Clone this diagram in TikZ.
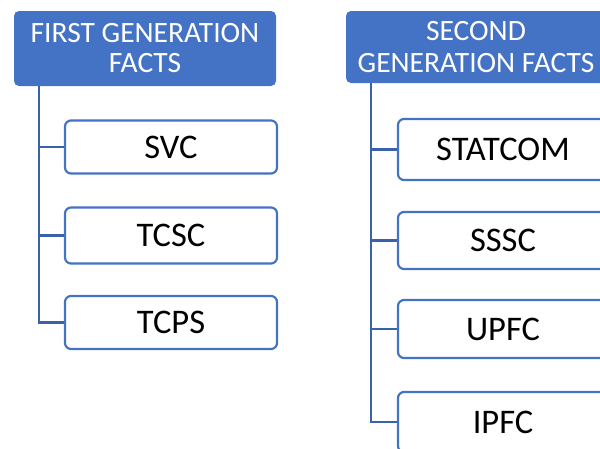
\documentclass[tikz,border=0pt]{standalone}
\usepackage{fontspec}
\setmainfont{Carlito}
\definecolor{hdr}{HTML}{4472C4}
\definecolor{conn}{HTML}{3A62AC}
\begin{document}
\begin{tikzpicture}[x=1pt,y=-1pt,
  header/.style={draw=none, fill=hdr, rounded corners=5pt, text=white, align=center,
     inner sep=0pt},
  item/.style={draw=hdr, line width=2.2pt, fill=white, rounded corners=6pt,
     font=\fontsize{34.5}{38}\selectfont, inner sep=0pt, text=black},
  link/.style={draw=conn, line width=2.4pt}]
\useasboundingbox (0,0) rectangle (600,448);
\clip (0,0) rectangle (600,448);
% left column
\node[header, font=\fontsize{29.5}{30}\selectfont, minimum width=262pt, minimum height=75pt] (h1) at (145,48.5) {FIRST GENERATION\\FACTS};
\node[item, minimum width=212pt, minimum height=53pt] (svc) at (171,147) {SVC};
\node[item, minimum width=212pt, minimum height=56pt] (tcsc) at (171,235.5) {TCSC};
\node[item, minimum width=212pt, minimum height=53pt] (tcps) at (171,322.5) {TCPS};
% right column
\node[header, font=\fontsize{29.5}{32}\selectfont, minimum width=260pt, minimum height=72pt] (h2) at (476,47) {SECOND\\GENERATION FACTS};
\node[item, minimum width=210pt, minimum height=61pt] (st) at (503,149.5) {STATCOM};
\node[item, minimum width=210pt, minimum height=57pt] (sssc) at (503,240.5) {SSSC};
\node[item, minimum width=210pt, minimum height=58pt] (upfc) at (503,329) {UPFC};
\node[item, minimum width=210pt, minimum height=60pt] (ipfc) at (503,422) {IPFC};
% connectors
\draw[link] ([xshift=25pt]h1.south west) |- (svc.west);
\draw[link] ([xshift=25pt]h1.south west) |- (tcsc.west);
\draw[link] ([xshift=25pt]h1.south west) |- (tcps.west);
\draw[link] ([xshift=25pt]h2.south west) |- (st.west);
\draw[link] ([xshift=25pt]h2.south west) |- (sssc.west);
\draw[link] ([xshift=25pt]h2.south west) |- (upfc.west);
\draw[link] ([xshift=25pt]h2.south west) |- (ipfc.west);
\end{tikzpicture}
\end{document}
